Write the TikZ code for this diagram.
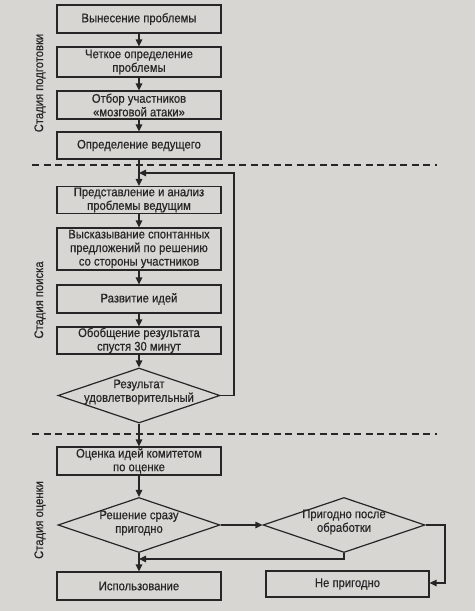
\documentclass[tikz,border=0pt]{standalone}
\usepackage{fontspec}
\setmainfont{Liberation Sans}[FakeBold=0.5,FakeStretch=0.9]
\usetikzlibrary{shapes.geometric,arrows.meta}
\definecolor{paper}{HTML}{D8D6D2}
\definecolor{ink}{HTML}{262626}
\begin{document}
\begin{tikzpicture}[x=1pt,y=-1pt,
  font=\fontsize{12.5}{13.6}\selectfont,
  every node/.style={text=ink},
  stepbox/.style={draw=ink,line width=1.2pt,minimum width=164pt,inner sep=0pt,align=center},
  dia/.style={draw=ink,line width=1.2pt,shape=diamond,inner sep=0pt,minimum width=162pt,minimum height=55pt},
  txt/.style={align=center,inner sep=0pt},
  arr/.style={draw=ink,line width=1.2pt,-{Triangle[length=7pt,width=6.5pt]}},
  sep/.style={draw=ink,line width=1.2pt,dash pattern=on 7pt off 4.5pt},
  stage/.style={rotate=90,inner sep=0pt}]
\fill[paper] (0,0) rectangle (475,611);
\useasboundingbox (0,0) rectangle (475,611);

% stage 1
\node[stepbox,minimum height=28pt] (b1) at (139,19) {Вынесение проблемы};
\node[stepbox,minimum height=30pt] (b2) at (139,62) {Четкое определение\\проблемы};
\node[stepbox,minimum height=28pt] (b3) at (139,105) {Отбор участников\\«мозговой атаки»};
\node[stepbox,minimum height=27pt] (b4) at (139,145.5) {Определение ведущего};

% stage 2
\node[stepbox,minimum height=27pt] (b5) at (139,200) {Представление и анализ\\проблемы ведущим};
\node[stepbox,minimum height=42pt] (b6) at (139,249) {Высказывание спонтанных\\предложений по решению\\со стороны участников};
\node[stepbox,minimum height=28pt] (b7) at (139,299) {Развитие идей};
\node[stepbox,minimum height=27pt] (b8) at (139,340.5) {Обобщение результата\\спустя 30 минут};
\node[dia] (d1) at (139,395.5) {};
\node[txt] (d1t) at (139,392) {Результат\\удовлетворительный};

% stage 3
\node[stepbox,minimum height=28pt] (b9) at (139,461) {Оценка идей комитетом\\по оценке};
\node[dia] (d2) at (139,525) {};
\node[txt] (d2t) at (139,523) {Решение сразу\\пригодно};
\node[dia] (d3) at (344,525) {};
\node[txt] (d3t) at (344,522) {Пригодно после\\обработки};
\node[stepbox,minimum height=28pt] (b10) at (139,586) {Использование};
\node[stepbox,minimum width=163pt,minimum height=26pt] (b11) at (347.5,584) {Не пригодно};

% stage labels
\node[stage] (s1) at (40,83) {Стадия подготовки};
\node[stage] (s2) at (40,300) {Стадия поиска};
\node[stage] (s3) at (40,520) {Стадия оценки};

% separators
\coordinate (l1a) at (32,165); \coordinate (l1b) at (437,165);
\coordinate (l2a) at (32,434); \coordinate (l2b) at (437,434);
\draw[sep] (l1a) -- (l1b);
\draw[sep] (l2a) -- (l2b);

% connectors
\draw[arr] (b1) -- (b2);
\draw[arr] (b2) -- (b3);
\draw[arr] (b3) -- (b4);
\draw[arr] (b4) -- (b5);
\draw[arr] (b5) -- (b6);
\draw[arr] (b6) -- (b7);
\draw[arr] (b7) -- (b8);
\draw[arr] (b8) -- (d1);
\draw[arr] (d1) -- (b9);
\draw[arr] (b9) -- (d2);
\draw[arr] (d2) -- (b10);
\draw[arr] (d2.east) -- (d3.west);

\coordinate (fb) at (234,173);
\draw[arr] (d1.east) -| (fb) -- (fb -| b5.north);

\coordinate (rb) at (445,583);
\draw[arr] (d3.east) -| (rb) -- (rb -| b11.east);

\coordinate (jb) at (344,559);
\draw[arr] (d3.south) -- (jb) -- (jb -| b10.north);
\end{tikzpicture}
\end{document}
